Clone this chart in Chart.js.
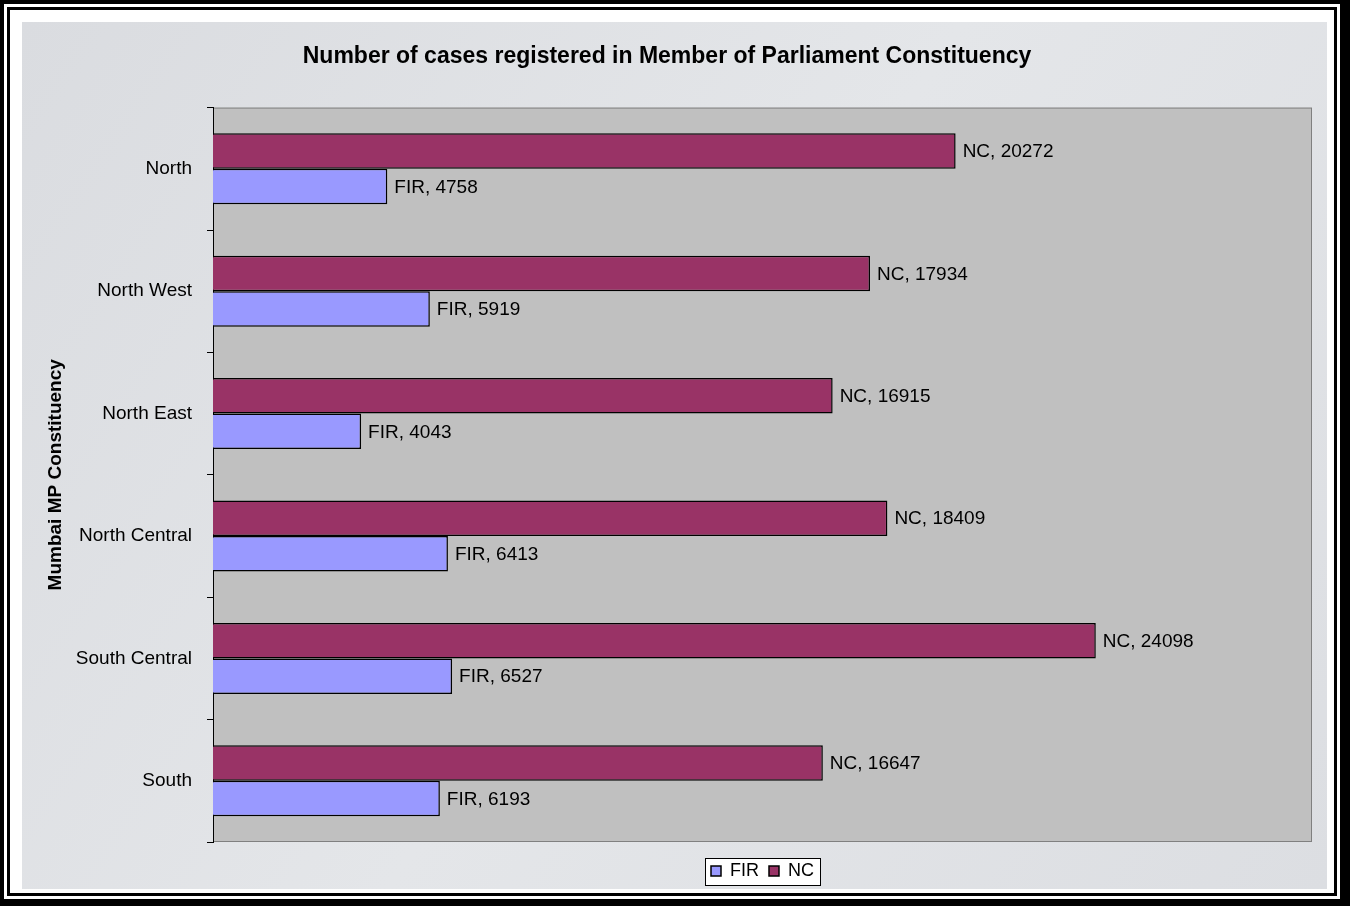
<!DOCTYPE html>
<html>
<head>
<meta charset="utf-8">
<script src="https://cdn.jsdelivr.net/npm/chart.js@4.4.0/dist/chart.umd.min.js"></script>
<style>
  body { margin: 0; background: #000; }
  canvas { display: block; }
</style>
</head>
<body>
<canvas id="casesChart" width="1350" height="906"></canvas>
<script>
// Cases registered per Mumbai MP constituency
const constituencies = ['North', 'North West', 'North East', 'North Central', 'South Central', 'South'];
const firCases = [4758, 5919, 4043, 6413, 6527, 6193];
const ncCases = [20272, 17934, 16915, 18409, 24098, 16647];

Chart.defaults.font.family = 'Arial, "Liberation Sans", sans-serif';
Chart.defaults.color = '#000';

// Frame, marble-ish background, gray plot area and white legend box
const backgroundPlugin = {
    id: 'background',
    beforeDraw(chart) {
        const ctx = chart.ctx;
        const w = chart.width, h = chart.height;
        ctx.save();
        ctx.fillStyle = '#000';
        ctx.fillRect(0, 0, w, h);
        ctx.fillStyle = '#fff';
        ctx.fillRect(4, 4, 1336, 895);
        ctx.fillStyle = '#000';
        ctx.fillRect(7, 7, 1330, 889);
        ctx.fillStyle = '#fff';
        ctx.fillRect(10, 10, 1324, 883);

        const grad = ctx.createLinearGradient(22, 22, 1327, 889);
        grad.addColorStop(0, '#dadce0');
        grad.addColorStop(0.5, '#e4e6e9');
        grad.addColorStop(1, '#dcdee2');
        ctx.fillStyle = grad;
        ctx.fillRect(22, 22, 1305, 867);

        const area = chart.chartArea;
        ctx.fillStyle = '#c0c0c0';
        ctx.fillRect(area.left, area.top, area.right - area.left, area.bottom - area.top);
        ctx.strokeStyle = '#808080';
        ctx.lineWidth = 1;
        ctx.strokeRect(area.left + 0.5, area.top + 0.5, area.right - area.left - 1, area.bottom - area.top - 1);

        const legend = chart.legend;
        if (legend && legend.legendHitBoxes && legend.legendHitBoxes.length) {
            const boxes = legend.legendHitBoxes;
            const left = Math.min(...boxes.map(b => b.left)) - 6;
            const right = Math.max(...boxes.map(b => b.left + b.width)) + 6;
            const top = Math.min(...boxes.map(b => b.top)) - 4;
            const bottom = Math.max(...boxes.map(b => b.top + b.height)) + 5;
            ctx.fillStyle = '#fff';
            ctx.fillRect(left, top, right - left, bottom - top);
            ctx.strokeStyle = '#000';
            ctx.strokeRect(Math.round(left) + 0.5, Math.round(top) + 0.5, Math.round(right - left), Math.round(bottom - top));
        }
        ctx.restore();
    }
};

// "NC, 20272" style labels at the end of each bar
const barLabelsPlugin = {
    id: 'barLabels',
    afterDatasetsDraw(chart) {
        const ctx = chart.ctx;
        ctx.save();
        ctx.font = '19px Arial, "Liberation Sans", sans-serif';
        ctx.fillStyle = '#000';
        ctx.textBaseline = 'middle';
        ctx.textAlign = 'left';
        chart.data.datasets.forEach((ds, i) => {
            const meta = chart.getDatasetMeta(i);
            meta.data.forEach((bar, j) => {
                ctx.fillText(ds.label + ', ' + ds.data[j], bar.x + 7, bar.y + 1);
            });
        });
        ctx.restore();
    }
};

const ctx = document.getElementById('casesChart').getContext('2d');
const chart = new Chart(ctx, {
    type: 'bar',
    data: {
        labels: constituencies,
        datasets: [{
            label: 'NC',
            data: ncCases,
            backgroundColor: '#993366',
            borderColor: '#000',
            borderWidth: 1.5
        }, {
            label: 'FIR',
            data: firCases,
            backgroundColor: '#9999ff',
            borderColor: '#000',
            borderWidth: 1.5
        }]
    },
    options: {
        indexAxis: 'y',
        responsive: false,
        animation: false,
        devicePixelRatio: 1,
        categoryPercentage: 0.58,
        barPercentage: 1.0,
        layout: {
            padding: { left: 22, right: 38, top: 22, bottom: 16 }
        },
        scales: {
            x: {
                min: 0,
                max: 30000,
                ticks: { display: false },
                grid: { display: false },
                border: { display: false },
                afterFit: scale => { scale.height = 10; }
            },
            y: {
                grid: {
                    drawOnChartArea: false,
                    drawTicks: true,
                    tickLength: 6,
                    color: '#000'
                },
                border: { display: true, color: '#000', width: 1 },
                ticks: {
                    padding: 15,
                    font: { size: 19 },
                    color: '#000'
                },
                title: {
                    display: true,
                    text: 'Mumbai MP Constituency',
                    font: { size: 19, weight: 'bold' },
                    padding: { top: 22, bottom: 0 }
                },
                afterFit: scale => { scale.width = 191; }
            }
        },
        plugins: {
            title: {
                display: true,
                text: 'Number of cases registered in Member of Parliament Constituency',
                font: { size: 23, weight: 'bold' },
                color: '#000',
                padding: { top: 21, bottom: 37 }
            },
            legend: {
                position: 'bottom',
                fullSize: false,
                reverse: true,
                labels: {
                    boxWidth: 10,
                    boxHeight: 10,
                    font: { size: 18 },
                    color: '#000',
                    padding: 10
                }
            },
            tooltip: { enabled: false }
        }
    },
    plugins: [backgroundPlugin, barLabelsPlugin]
});
</script>
</body>
</html>
